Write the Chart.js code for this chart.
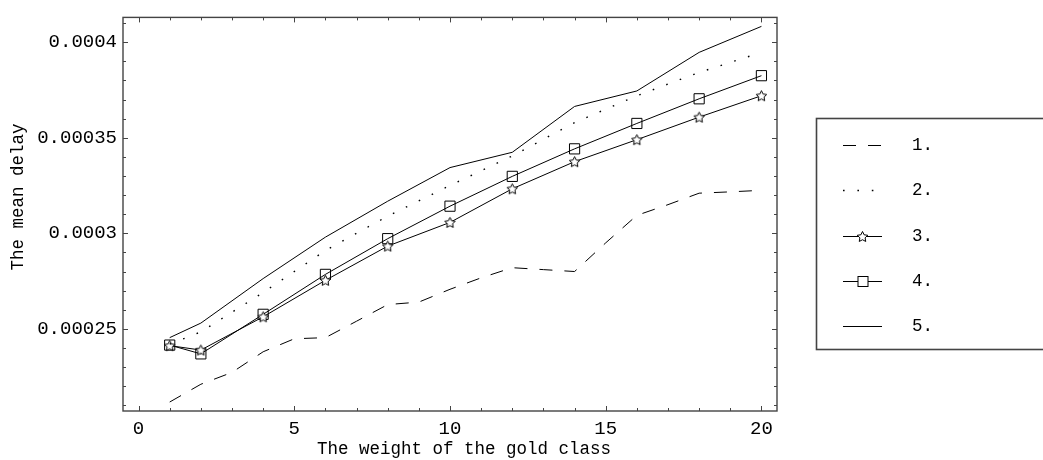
<!DOCTYPE html>
<html>
<head>
<meta charset="utf-8">
<script src="https://cdn.jsdelivr.net/npm/chart.js@4/dist/chart.umd.min.js"></script>
<style>
  html, body { margin: 0; padding: 0; background: #fff; }
  #wrap { width: 1043px; height: 460px; }
</style>
</head>
<body>
<div id="wrap"><canvas id="myChart" width="1043" height="460"></canvas></div>
<script>
// x positions
const xAll = [1, 2, 3, 4, 5, 6, 7, 8, 9, 10, 11, 12, 13, 14, 15, 16, 17, 18, 19, 20]
const xMarked = [1, 2, 4, 6, 8, 10, 12, 14, 16, 18, 20]

// series values
const series1 = [0.0002117, 0.000221, 0.0002272, 0.000238, 0.0002448, 0.0002454, 0.000254, 0.0002627, 0.000264, 0.0002707,
  0.0002767, 0.000282, 0.000281, 0.00028, 0.000295, 0.0003094, 0.000315, 0.000321, 0.0003217, 0.0003225]
const series2 = [0.000242, 0.0002484, 0.000269, 0.000291, 0.000309, 0.000325, 0.0003405, 0.0003579, 0.000372, 0.0003842, 0.0003947]
const series3 = [0.0002412, 0.0002389, 0.0002563, 0.0002754, 0.0002933, 0.0003057, 0.0003233, 0.0003375, 0.000349, 0.0003608, 0.000372]
const series4 = [0.0002415, 0.0002369, 0.0002576, 0.0002785, 0.0002972, 0.0003142, 0.0003298, 0.0003442, 0.0003575, 0.0003704, 0.0003825]
const series5 = [0.0002454, 0.000253, 0.0002763, 0.000298, 0.0003168, 0.0003344, 0.0003424, 0.0003664, 0.0003745, 0.0003947, 0.0004083]

const legendLabels = ['1.', '2.', '3.', '4.', '5.']

// ticks
const xTicks = [0, 5, 10, 15, 20]
const yTicks = [0.00025, 0.0003, 0.00035, 0.0004]
const yTickLabels = ['0.00025', '0.0003', '0.00035', '0.0004']

const FONT = "'Liberation Mono', 'DejaVu Sans Mono', monospace"

function pts(xs, ys) {
  return xs.map((x, i) => ({ x: x, y: ys[i] }))
}

// hollow five point star used as a marker
function makeStar(size) {
  const c = document.createElement('canvas')
  c.width = size
  c.height = size
  const g = c.getContext('2d')
  const m = size / 2
  g.beginPath()
  for (let i = 0; i < 10; i++) {
    const r = i % 2 ? m * 0.42 : m * 0.85
    const a = -Math.PI / 2 + i * Math.PI / 5
    g.lineTo(m + r * Math.cos(a), m + 0.5 + r * Math.sin(a))
  }
  g.closePath()
  g.fillStyle = '#fff'
  g.fill()
  g.strokeStyle = '#000'
  g.lineWidth = 1
  g.stroke()
  return c
}
const star = makeStar(13)

// frame, inward ticks, axis titles and the boxed legend
const decor = {
  id: 'decor',
  afterDraw(chart) {
    const { ctx, chartArea: a, scales: { x, y } } = chart
    ctx.save()
    ctx.strokeStyle = '#444'
    ctx.lineWidth = 1.4
    ctx.strokeRect(a.left, a.top, a.right - a.left, a.bottom - a.top)

    ctx.lineWidth = 1
    ctx.beginPath()
    for (let k = 0; k <= 20; k++) {
      const px = Math.round(x.getPixelForValue(k)) + 0.5
      const len = xTicks.includes(k) ? 5 : 3
      ctx.moveTo(px, a.bottom); ctx.lineTo(px, a.bottom - len)
      ctx.moveTo(px, a.top); ctx.lineTo(px, a.top + len)
    }
    for (let k = 21; k <= 41; k++) {
      const py = Math.round(y.getPixelForValue(k * 1e-5)) + 0.5
      const len = k % 5 === 0 ? 5 : 3
      ctx.moveTo(a.left, py); ctx.lineTo(a.left + len, py)
      ctx.moveTo(a.right, py); ctx.lineTo(a.right - len, py)
    }
    ctx.stroke()

    // axis titles
    ctx.fillStyle = '#000'
    ctx.font = '17.5px ' + FONT
    ctx.textAlign = 'center'
    ctx.textBaseline = 'alphabetic'
    ctx.fillText('The weight of the gold class', 464, 454)
    ctx.save()
    ctx.translate(22.7, 197)
    ctx.rotate(-Math.PI / 2)
    ctx.fillText('The mean delay', 0, 0)
    ctx.restore()

    // legend
    ctx.strokeStyle = '#444'
    ctx.lineWidth = 1.6
    ctx.strokeRect(816.5, 118.5, 300, 231)
    ctx.font = '17.5px ' + FONT
    ctx.textAlign = 'left'
    ctx.textBaseline = 'middle'
    chart.data.datasets.forEach((ds, i) => {
      const ly = Math.round(145 + i * 45.3) + 0.5
      ctx.strokeStyle = '#000'
      ctx.lineWidth = ds.borderWidth
      ctx.setLineDash(ds.borderDash || [])
      ctx.beginPath()
      ctx.moveTo(843, ly)
      ctx.lineTo(882, ly)
      ctx.stroke()
      ctx.setLineDash([])
      ctx.lineWidth = 1
      if (ds.pointStyle === 'rect') {
        ctx.fillStyle = '#fff'
        ctx.fillRect(858, ly - 5, 10, 10)
        ctx.strokeRect(858, ly - 5, 10, 10)
      } else if (ds.pointStyle instanceof HTMLCanvasElement) {
        ctx.drawImage(ds.pointStyle, 856, Math.round(ly - 6.5))
      }
      ctx.fillStyle = '#000'
      ctx.fillText(legendLabels[i], 912, ly)
    })
    ctx.restore()
  }
}

const line = {
  borderColor: '#000',
  borderWidth: 1,
  tension: 0,
  fill: false
}

const ctx = document.getElementById('myChart')
const myChart = new Chart(ctx, {
  type: 'line',
  data: {
    datasets: [
      { ...line, data: pts(xAll, series1), borderDash: [13, 12], pointRadius: 0 },
      { ...line, data: pts(xMarked, series2), borderWidth: 1.4, borderDash: [1.6, 12.8], pointRadius: 0 },
      { ...line, data: pts(xMarked, series3), pointStyle: star, pointRadius: 6 },
      { ...line, data: pts(xMarked, series4), pointStyle: 'rect', pointRadius: 7.2,
        pointBackgroundColor: 'rgba(255,255,255,0)', pointBorderColor: '#000', pointBorderWidth: 1 },
      { ...line, data: pts(xMarked, series5), pointRadius: 0 }
    ]
  },
  options: {
    responsive: false,
    animation: false,
    devicePixelRatio: 1,
    layout: { padding: { top: 7, right: 266, left: 0, bottom: 0 } },
    scales: {
      x: {
        type: 'linear',
        min: -0.5,
        max: 20.5,
        grid: { display: false, drawTicks: false },
        border: { display: false },
        afterBuildTicks: s => { s.ticks = xTicks.map(v => ({ value: v })) },
        afterFit: s => { s.height = 49 },
        ticks: { color: '#000', padding: 7, maxRotation: 0, font: { family: FONT, size: 19 },
          callback: v => String(v) }
      },
      y: {
        min: 0.000207,
        max: 0.000413,
        grid: { display: false, drawTicks: false },
        border: { display: false },
        afterBuildTicks: s => { s.ticks = yTicks.map(v => ({ value: v })) },
        afterFit: s => { s.width = 123 },
        ticks: { color: '#000', padding: 6, font: { family: FONT, size: 19 },
          callback: (v, i) => yTickLabels[i] }
      }
    },
    plugins: {
      legend: { display: false },
      tooltip: { enabled: false }
    }
  },
  plugins: [decor]
})
</script>
</body>
</html>
